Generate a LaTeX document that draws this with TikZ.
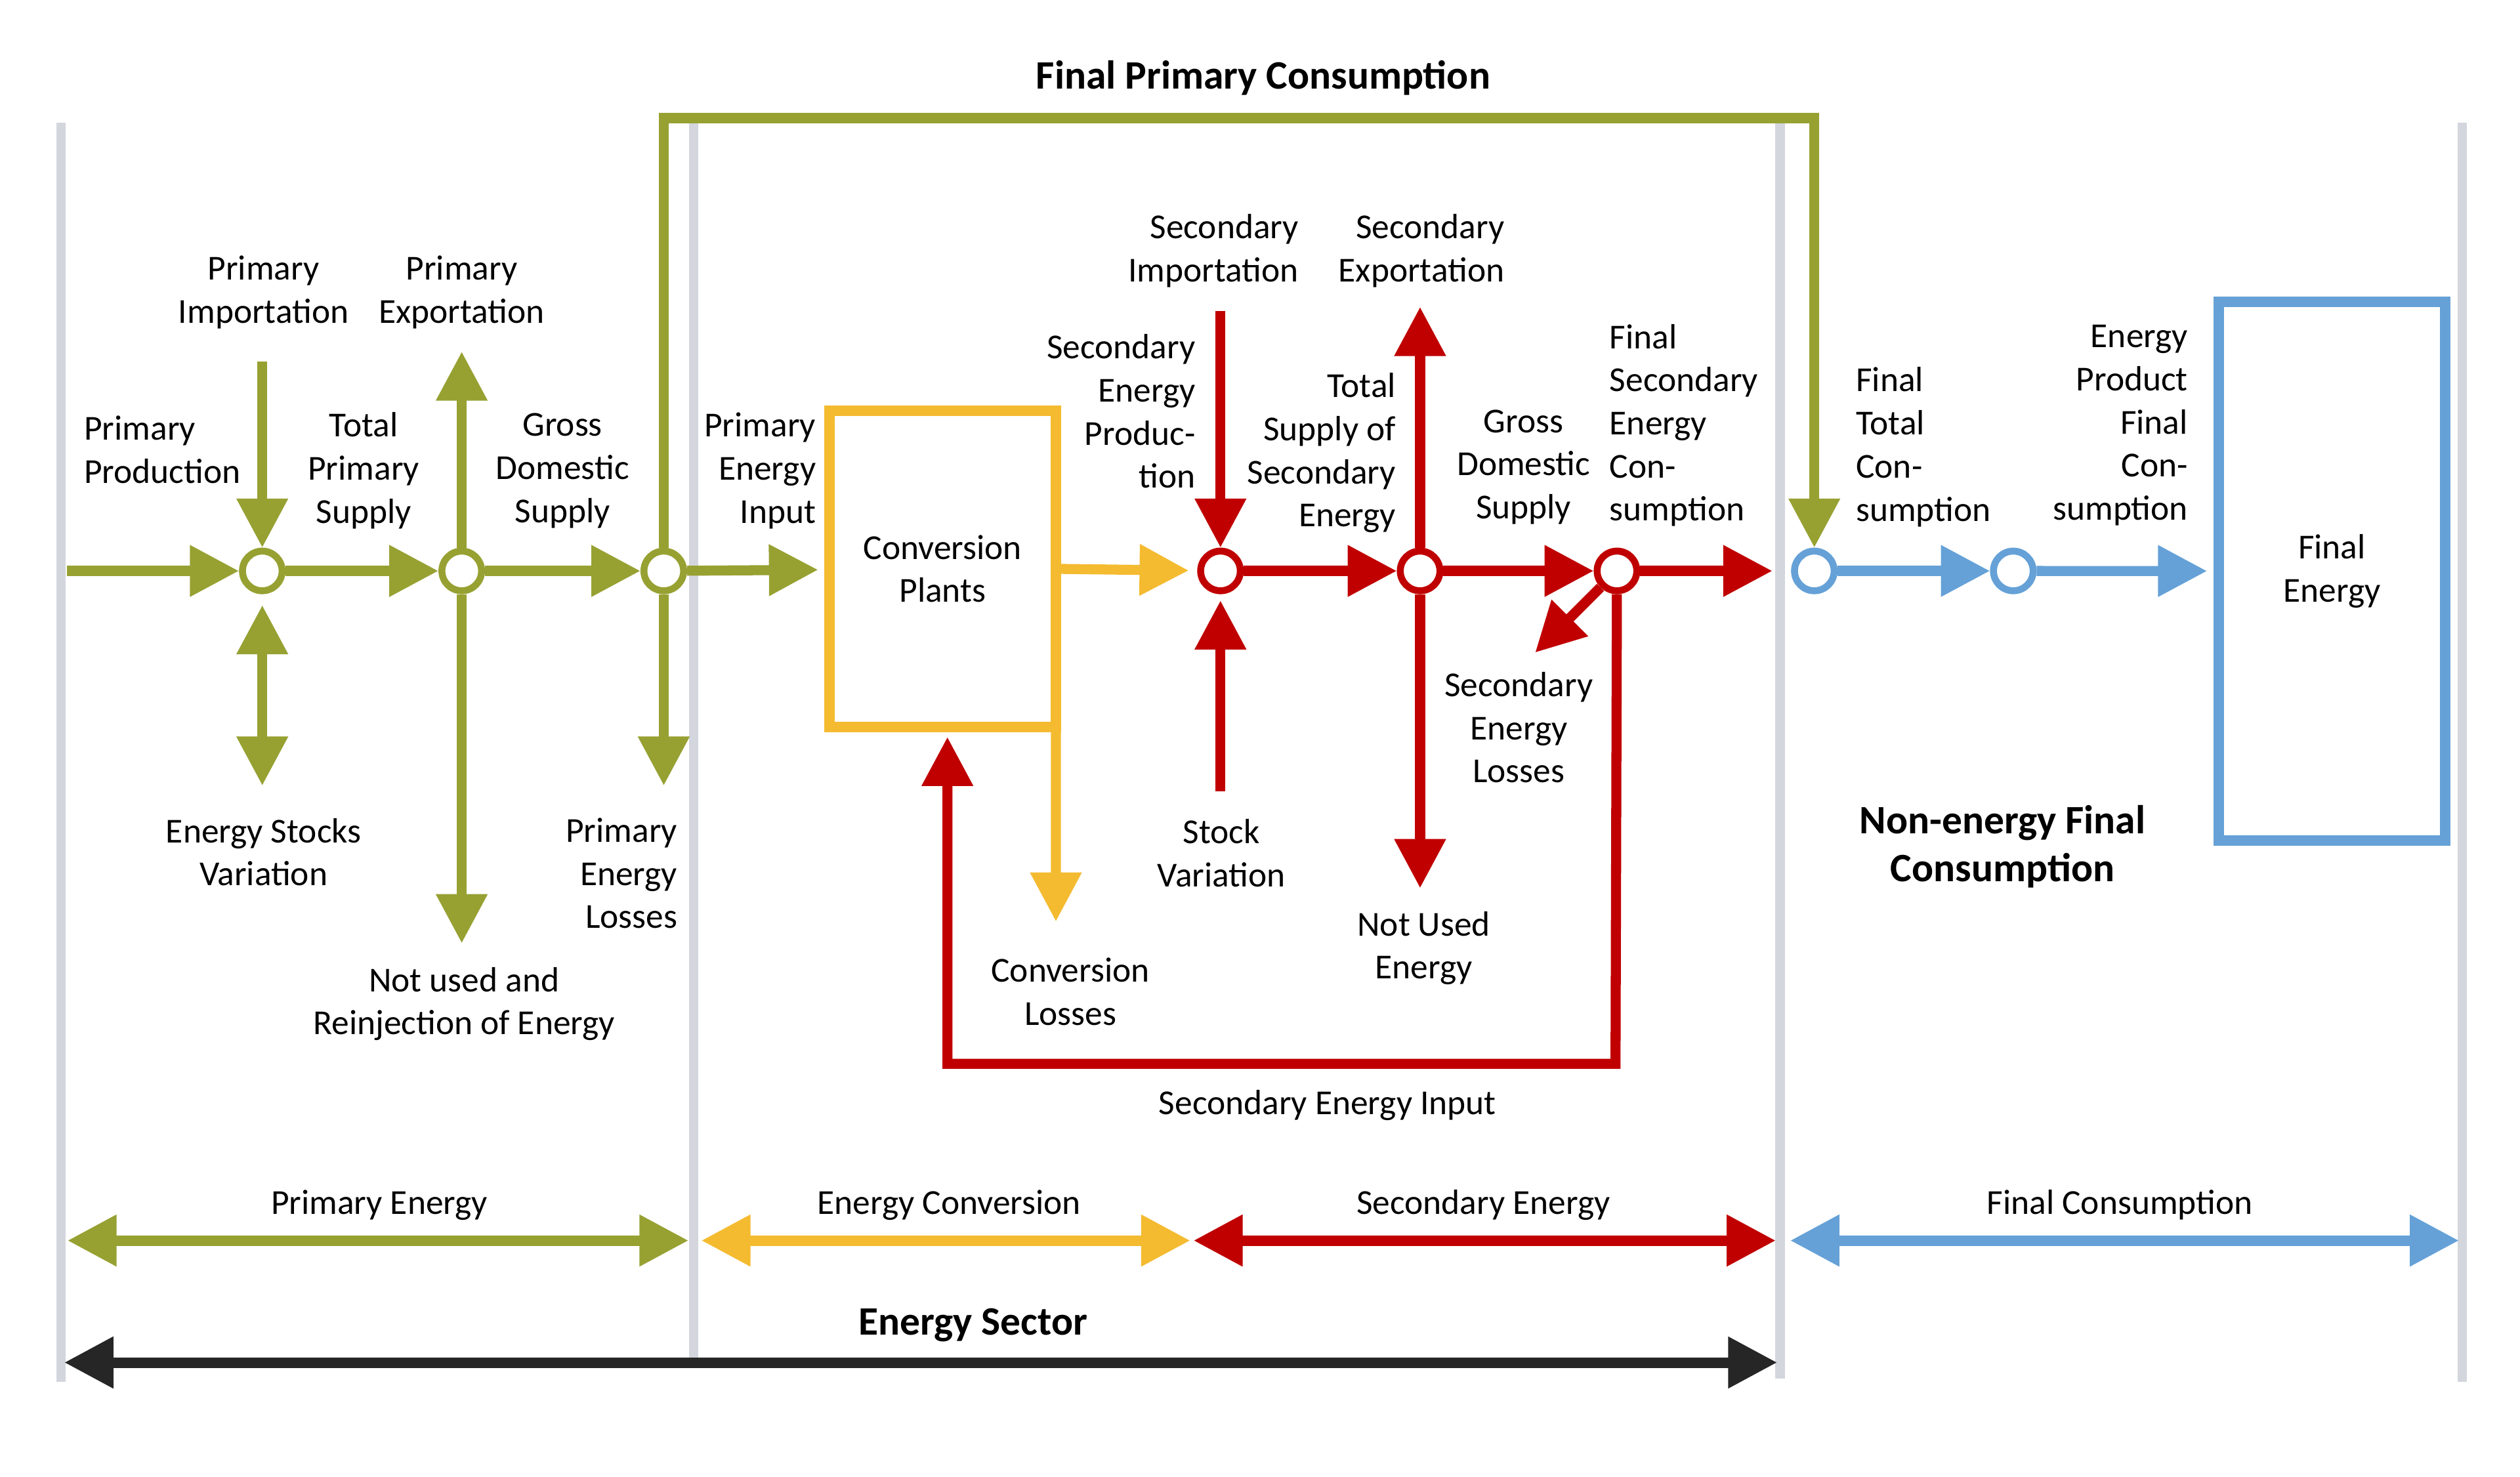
\documentclass[tikz,border=0pt]{standalone}
\usepackage{fontspec}
\setmainfont{Carlito}
\usetikzlibrary{arrows.meta}
\definecolor{cg}{HTML}{97A132}
\definecolor{cy}{HTML}{F4BB30}
\definecolor{cr}{HTML}{C00000}
\definecolor{cb}{HTML}{65A1D7}
\definecolor{cgray}{HTML}{D3D6DD}
\definecolor{ck}{HTML}{262626}
\begin{document}
\begin{tikzpicture}[x=0.02449cm,y=-0.02449cm,
  >={Triangle[length=21.3pt,width=21.3pt]},
  every node/.style={font=\fontsize{15.2}{18.7}\selectfont, inner sep=0pt},
  flow/.style={line width=4.35pt,->},
  dflow/.style={line width=4.35pt,<->},
  junc/.style={circle, draw, fill=white, line width=3.0pt, minimum size=17.2pt, inner sep=0pt},
  lbl/.style={align=center},
  lbll/.style={align=left, anchor=west},
  lblr/.style={align=right, anchor=east},
  boldlbl/.style={align=center, font=\fontsize{17.5}{20.8}\selectfont\bfseries},
  sepline/.style={draw=cgray, line width=4.2pt},
  band/.style={line width=4.55pt,<->},
  boxst/.style={draw, line width=4.55pt, outer sep=0pt, inner sep=0pt, align=center}
]
\useasboundingbox (0,0) rectangle (1568,919);

% separators
\draw[sepline] (38,76.5) -- (38,860);
\draw[sepline] (431.6,76.5) -- (431.6,845);
\draw[sepline] (1107.6,76.5) -- (1107.6,858);
\draw[sepline] (1532,76.5) -- (1532,860);

% junctions and boxes
\node[junc,draw=cg] (g1) at (163.2,355.3) {};
\node[junc,draw=cg] (g2) at (287.3,355.3) {};
\node[junc,draw=cg] (g3) at (413,355.3) {};
\node[boxst,draw=cy,minimum width=98.2pt,minimum height=137.1pt] (cp) at (586.5,354) {Conversion\\Plants};
\node[junc,draw=cr] (r1) at (759.4,355.3) {};
\node[junc,draw=cr] (r2) at (883.6,355.3) {};
\node[junc,draw=cr] (r3) at (1006.1,355.3) {};
\node[junc,draw=cb] (b1) at (1128.9,355.3) {};
\node[junc,draw=cb] (b2) at (1252.7,355.3) {};
\node[boxst,draw=cb,minimum width=97.9pt,minimum height=233.6pt] (fe) at (1451,355.4) {Final\\Energy};

% free ends
\coordinate (pp) at (41.6,355.3);
\coordinate (pi) at (163.2,224.8);
\coordinate (svT) at (163.2,376.6);
\coordinate (svB) at (163.2,488.9);
\coordinate (pe) at (287.3,218.8);
\coordinate (nu) at (287.3,587);
\coordinate (pl) at (413,488.9);
\coordinate (fpL) at (413,73.5);
\coordinate (fpR) at (1128.9,73.5);
\coordinate (cl) at (657,573.5);
\coordinate (si) at (759.4,193.6);
\coordinate (sv) at (759.4,492.5);
\coordinate (se) at (883.6,191);
\coordinate (nue) at (883.6,552.7);
\coordinate (fsc) at (1102.8,355.3);
\coordinate (sl) at (955.2,406.1);
\coordinate (fb1) at (1005.2,662);
\coordinate (fb2) at (589.5,662);
\coordinate (sei) at (589.5,458.6);

% green flows
\draw[flow,cg] (pp) -- (g1);
\draw[flow,cg] (pi) -- (g1);
\draw[dflow,cg] (svT) -- (svB);
\draw[flow,cg] (g1) -- (g2);
\draw[flow,cg] (g2) -- (pe);
\draw[flow,cg] (g2) -- (nu);
\draw[flow,cg] (g2) -- (g3);
\draw[flow,cg] (g3) -- (pl);
\draw[flow,cg] (g3) -- (fpL) -- (fpR) -- (b1);
\draw[flow,cg,shorten >=4.9pt] (g3) -- (cp);

% yellow flows
\draw[flow,cy,shorten >=3.7pt] (cp.east) -- (r1);
\draw[flow,cy] (cp.south east) -- (cl);

% red flows
\draw[flow,cr] (si) -- (r1);
\draw[flow,cr,shorten >=2.7pt] (sv) -- (r1);
\draw[flow,cr] (r1) -- (r2);
\draw[flow,cr] (r2) -- (se);
\draw[flow,cr] (r2) -- (nue);
\draw[flow,cr] (r2) -- (r3);
\draw[flow,cr] (r3) -- (fsc);
\draw[flow,cr] (r3) -- (sl);
\draw[flow,cr] (r3) -- (fb1) -- (fb2) -- (sei);

% blue flows
\draw[flow,cb] (b1) -- (b2);
\draw[flow,cb,shorten >=5.2pt] (b2) -- (fe);

% bands
\coordinate (pa) at (42,772);   \coordinate (pb) at (428.4,772);
\coordinate (ca) at (436.4,772); \coordinate (cbb) at (740.6,772);
\coordinate (sa) at (742.6,772); \coordinate (sb) at (1104.9,772);
\coordinate (fa) at (1113.9,772); \coordinate (fb) at (1530,772);
\coordinate (ea) at (40,847.9); \coordinate (eb) at (1105.8,847.9);
\draw[band,cg] (pa) -- (pb);
\draw[band,cy] (ca) -- (cbb);
\draw[band,cr] (sa) -- (sb);
\draw[band,cb] (fa) -- (fb);
\draw[band,ck] (ea) -- (eb);

% labels
\node[lbll] (tPP) at (52.1,279.7) {Primary\\Production};
\node[lbl] (tPI) at (164,181.9) {Primary\\Importation};
\node[lbl] (tPE) at (287.3,181.9) {Primary\\Exportation};
\node[lbl] (tTPS) at (226.3,292.9) {Total\\Primary\\Supply};
\node[lbl] (tGDS) at (350,292.9) {Gross\\Domestic\\Supply};
\node[lbl] (tESV) at (164,530.3) {Energy Stocks\\Variation};
\node[lbl] (tNU) at (288.8,624.8) {Not used and\\Reinjection of Energy};
\node[lblr] (tPEL) at (421.7,543.5) {Primary\\Energy\\Losses};
\node[lblr] (tPEI) at (507.9,292.9) {Primary\\Energy\\Input};
\node[lblr] (tSI) at (808.3,156.2) {Secondary\\Importation};
\node[lblr] (tSE) at (936.3,156.2) {Secondary\\Exportation};
\node[lblr] (tSEP) at (744,256) {Secondary\\Energy\\Produc-\\tion};
\node[lblr] (tTSS) at (868.8,281.9) {Total\\Supply of\\Secondary\\Energy};
\node[lbl] (tGDS2) at (948,290.7) {Gross\\Domestic\\Supply};
\node[lbll] (tFSEC) at (1001.3,264.7) {Final\\Secondary\\Energy\\Con-\\sumption};
\node[lbl] (tSEL) at (945,452.7) {Secondary\\Energy\\Losses};
\node[lbl] (tSV) at (760,530.9) {Stock\\Variation};
\node[lbl] (tNUE) at (885.9,590.1) {Not Used\\Energy};
\node[lbl] (tCL) at (666,617.1) {Conversion\\Losses};
\node[lbl] (tSEI) at (826,687.8) {Secondary Energy Input};
\node[lbll] (tFTC) at (1154.6,278.2) {Final\\Total\\Con-\\sumption};
\node[lblr] (tEPFC) at (1361.6,264.7) {Energy\\Product\\Final\\Con-\\sumption};
\node[boldlbl] (tNEFC) at (1246,526.9) {Non-energy Final\\Consumption};
\node[boldlbl] (tFPC) at (786,48.3) {Final Primary Consumption};
\node[lbl] (tbPE) at (236,750) {Primary Energy};
\node[lbl] (tbEC) at (590.5,750) {Energy Conversion};
\node[lbl] (tbSE) at (923,750) {Secondary Energy};
\node[lbl] (tbFC) at (1319,750) {Final Consumption};
\node[boldlbl] (tbES) at (605.5,824.6) {Energy Sector};
\end{tikzpicture}
\end{document}
